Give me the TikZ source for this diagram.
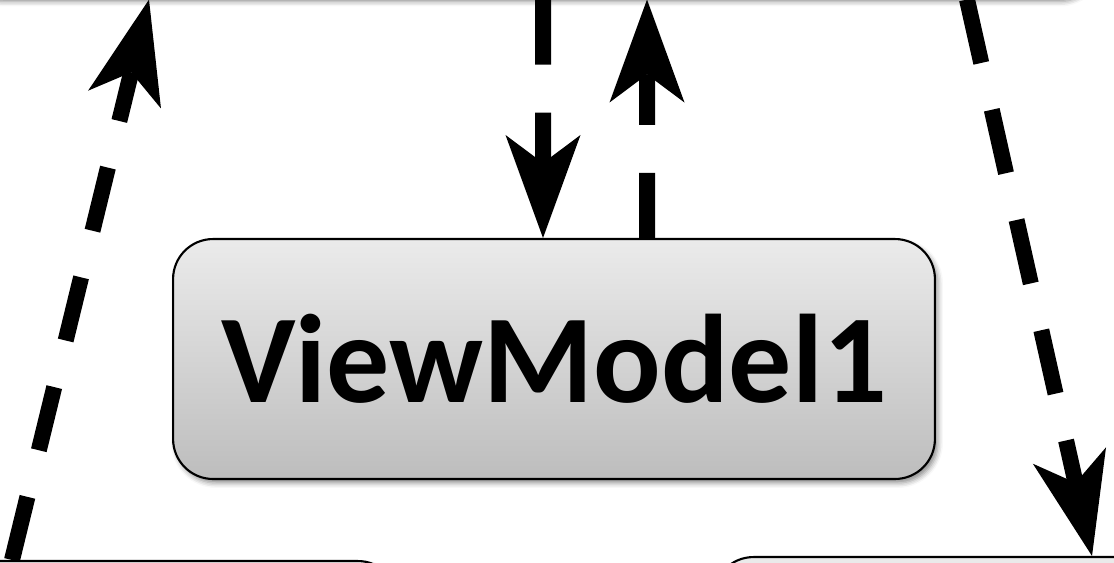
\documentclass[tikz,border=0pt]{standalone}
\usepackage{fontspec}
\setmainfont{Carlito}
\usetikzlibrary{arrows.meta,positioning,calc,shadows.blur}
\definecolor{BoxTop}{HTML}{EBEBEB}
\definecolor{BoxBottom}{HTML}{BDBDBD}

\tikzset{
  block/.style={draw=black,line width=1.2pt,rounded corners=0.8cm,
    top color=BoxTop,bottom color=BoxBottom,inner sep=0pt,
    blur shadow={shadow xshift=0.06cm,shadow yshift=-0.08cm,
      shadow blur radius=0.1cm,shadow opacity=45}},
  flow/.style={line width=0.32cm,dash pattern=on 1.3cm off 0.96cm,
    -{Stealth[length=2.06cm,width=1.5cm,inset=0.56cm,line width=0pt]}}
}

\begin{document}
\begin{tikzpicture}[x=0.02cm,y=-0.02cm]
  \useasboundingbox (0,0) rectangle (1114,562);
  \clip (0,0) rectangle (1114,562);
  % boxes, partly cut off at the edges
  \node[block,minimum width=22.74cm,minimum height=4.78cm] (topbox) at (528.5,-122) {};
  \node[block,minimum width=15.24cm,minimum height=4.8cm,
        font=\fontsize{71.7}{80}\selectfont\bfseries] (vm1) at (554,359) {ViewModel1};
  \node[block,minimum width=13.96cm,minimum height=4.78cm] (leftbox) at (49,680.5) {};
  \node[block,minimum width=13.86cm,minimum height=4.86cm] (rightbox) at (1060,678.5) {};
  % connectors
  \draw[flow] ($(leftbox.north)+(-37,0)$) -- ($(topbox.south)+(-379.5,1)$);
  \draw[flow] ($(topbox.south)+(14.5,1)$) -- ($(vm1.north)+(-11,0)$);
  \draw[flow] ($(vm1.north)+(93,0)$) -- ($(topbox.south)+(118.5,1)$);
  \draw[flow] ($(topbox.south)+(438.5,1)$) -- ($(rightbox.north)+(32,0)$);
\end{tikzpicture}
\end{document}
